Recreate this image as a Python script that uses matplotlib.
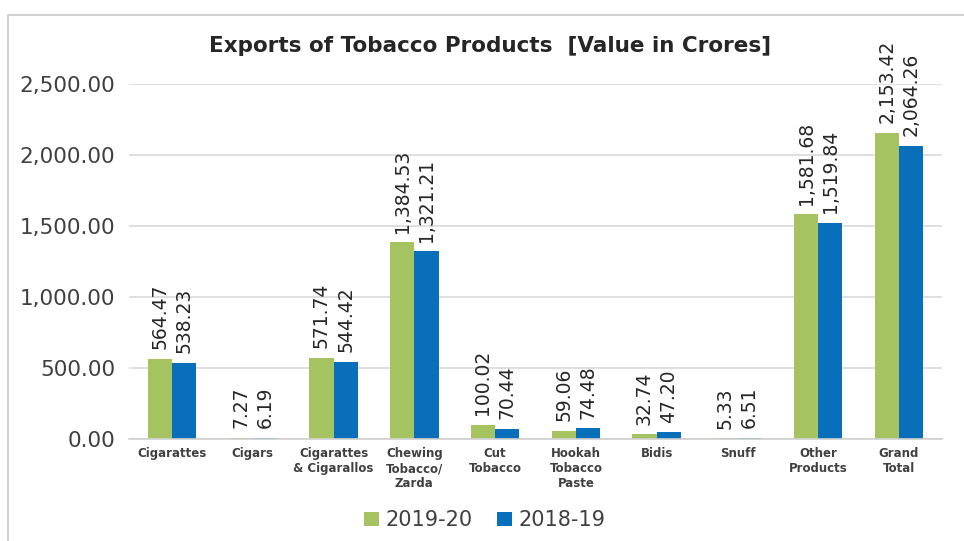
import numpy as np
import matplotlib
matplotlib.use("Agg")
import matplotlib.pyplot as plt
from matplotlib.patches import Rectangle

# dados
categorias = ["Cigarattes", "Cigars", "Cigarattes\n& Cigarallos", "Chewing\nTobacco/\nZarda",
              "Cut\nTobacco", "Hookah\nTobacco\nPaste", "Bidis", "Snuff", "Other\nProducts", "Grand\nTotal"]
valores_2019_20 = [564.47, 7.27, 571.74, 1384.53, 100.02, 59.06, 32.74, 5.33, 1581.68, 2153.42]
valores_2018_19 = [538.23, 6.19, 544.42, 1321.21, 70.44, 74.48, 47.20, 6.51, 1519.84, 2064.26]
serie_nomes = ["2019-20", "2018-19"]
yticks = [0, 500, 1000, 1500, 2000, 2500]

cor_verde = "#a5c360"
cor_azul = "#0a6fba"

fig = plt.figure(figsize=(9.64, 5.41), dpi=100)
ax = fig.add_axes([0.134, 0.1885, 0.843, 0.6565])

# moldura do gráfico
fig.patches.append(Rectangle((0.008, -0.01), 1.0, 0.983, transform=fig.transFigure,
                             fill=False, edgecolor="#c8c8c8", linewidth=1.2))

x = np.arange(len(categorias))
largura = 0.3
b1 = ax.bar(x - largura / 2, valores_2019_20, largura, color=cor_verde, label=serie_nomes[0])
b2 = ax.bar(x + largura / 2, valores_2018_19, largura, color=cor_azul, label=serie_nomes[1])

for barras in (b1, b2):
    for barra in barras:
        h = barra.get_height()
        ax.annotate(f"{h:,.2f}", (barra.get_x() + barra.get_width() / 2, h),
                    xytext=(0, 7), textcoords="offset points", rotation=90,
                    ha="center", va="bottom", fontsize=13.5, color="#262626")

ax.set_xlim(-0.53, len(categorias) - 0.47)
ax.set_ylim(0, 2500)
ax.set_yticks(yticks)
ax.set_yticklabels([f"{v:,.2f}" for v in yticks], fontsize=15.5, color="#404040")
ax.set_xticks(x)
ax.set_xticklabels(categorias, fontsize=8.5, fontweight="bold", color="#404040")
ax.tick_params(axis="both", length=0)
ax.tick_params(axis="y", pad=10)
ax.tick_params(axis="x", pad=6)

ax.grid(axis="y", color="#d9d9d9", linewidth=1.2)
ax.set_axisbelow(True)
for lado in ["top", "right", "left"]:
    ax.spines[lado].set_visible(False)
ax.spines["bottom"].set_color("#d0d0d0")
ax.spines["bottom"].set_linewidth(1.2)

fig.text(0.508, 0.915, "Exports of Tobacco Products  [Value in Crores]", ha="center", va="center",
         fontsize=15.5, fontweight="bold", color="#262626")

fig.legend(loc="center", bbox_to_anchor=(0.503, 0.038), ncol=2, frameon=False, fontsize=15,
           handlelength=0.7, handleheight=0.7, handletextpad=0.3, columnspacing=1.2,
           labelcolor="#404040")

plt.savefig("out.png", dpi=100)
